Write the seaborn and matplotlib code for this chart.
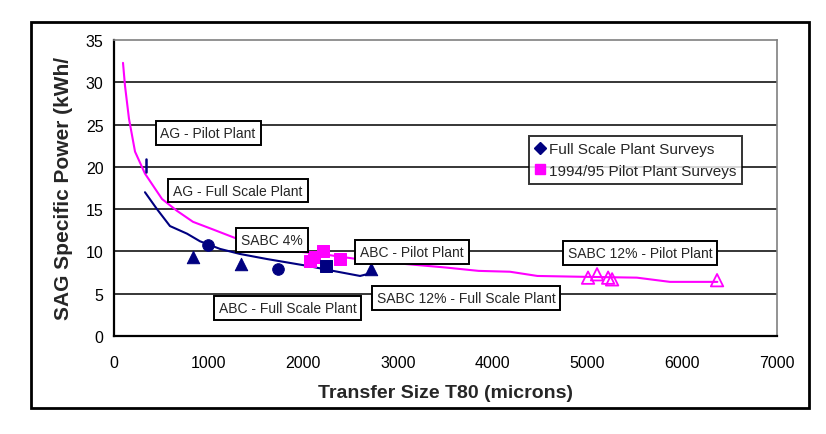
import matplotlib
matplotlib.use("Agg")
import matplotlib.pyplot as plt
import seaborn as sns
import pandas as pd
from matplotlib.lines import Line2D
from matplotlib.patches import Rectangle

# ---- data ----
pilot_curve_x = [95, 116, 158, 222, 327, 507, 665, 834, 1045, 1299, 1616, 1932, 2250,
                 2566, 2988, 3500, 3850, 4180, 4470, 4950, 5520, 5870, 6370]
pilot_curve_y = [32.3, 29.6, 25.7, 21.8, 19.2, 16.2, 14.8, 13.5, 12.6, 11.5, 10.5, 10.0, 9.6,
                 9.1, 8.6, 8.1, 7.7, 7.6, 7.1, 7.0, 6.9, 6.4, 6.4]
full_curve_x = [327, 454, 591, 771, 908, 1119, 1330, 1616, 1827, 2038, 2313, 2598, 2703]
full_curve_y = [17.0, 15.0, 13.0, 12.1, 11.2, 10.3, 9.7, 9.1, 8.7, 8.3, 7.7, 7.1, 7.4]
ag_tick_x = [338, 338]
ag_tick_y = [19.4, 20.9]

full_tri_x = [834, 1341, 2714]
full_tri_y = [9.4, 8.5, 7.9]
full_circ_x = [993, 1732]
full_circ_y = [10.8, 7.9]
full_sq_x = [2239]
full_sq_y = [8.3]
pilot_sq_x = [2070, 2110, 2210, 2390]
pilot_sq_y = [8.9, 9.4, 10.0, 9.1]
pilot_tri_x = [5005, 5100, 5217, 5259, 6367]
pilot_tri_y = [6.9, 7.3, 6.9, 6.7, 6.6]

labels_text = ["AG - Pilot Plant", "AG - Full Scale Plant", "SABC 4%", "ABC - Pilot Plant",
               "ABC - Full Scale Plant", "SABC 12% - Full Scale Plant", "SABC 12% - Pilot Plant"]
labels_x = [993, 1309, 1668, 3147, 1832, 3717, 5554]
labels_y = [24.0, 17.2, 11.35, 9.93, 3.3, 4.5, 9.8]

legend_labels = ["Full Scale Plant Surveys", "1994/95 Pilot Plant Surveys"]
xticks = [0, 1000, 2000, 3000, 4000, 5000, 6000, 7000]
yticks = [0, 5, 10, 15, 20, 25, 30, 35]

NAVY = "#000080"
MAG = "#FF00FF"

sns.set_style("white")
plt.rcParams['font.family'] = ['Liberation Sans', 'DejaVu Sans']

fig = plt.figure(figsize=(8.26, 4.35), dpi=100)
ax = fig.add_axes([114/826, 1-337/435, (777-114)/826, (337-41)/435])

# outer frame
fig.patches.append(Rectangle((31/826, 1-409/435), (809-31)/826, (409-23)/435,
                             transform=fig.transFigure, fill=False, edgecolor='black',
                             linewidth=2, zorder=0))

for yv in yticks[1:-1]:
    ax.axhline(yv, color='black', linewidth=1.1, zorder=1)

sns.lineplot(x=pilot_curve_x, y=pilot_curve_y, ax=ax, color=MAG, linewidth=1.5,
             sort=False, estimator=None, zorder=3)
sns.lineplot(x=full_curve_x, y=full_curve_y, ax=ax, color=NAVY, linewidth=1.5,
             sort=False, estimator=None, zorder=3)
sns.lineplot(x=ag_tick_x, y=ag_tick_y, ax=ax, color=NAVY, linewidth=1.8,
             sort=False, estimator=None, zorder=3)

sns.scatterplot(x=full_tri_x, y=full_tri_y, ax=ax, marker='^', s=80, color=NAVY,
                edgecolor=NAVY, zorder=5)
sns.scatterplot(x=full_circ_x, y=full_circ_y, ax=ax, marker='o', s=70, color=NAVY,
                edgecolor=NAVY, zorder=5)
sns.scatterplot(x=pilot_sq_x, y=pilot_sq_y, ax=ax, marker='s', s=80, color=MAG,
                edgecolor=MAG, zorder=5)
sns.scatterplot(x=full_sq_x, y=full_sq_y, ax=ax, marker='s', s=75, color=NAVY,
                edgecolor=NAVY, zorder=6)
sns.scatterplot(x=pilot_tri_x, y=pilot_tri_y, ax=ax, marker='^', s=80, facecolor='none',
                edgecolor=MAG, linewidth=1.3, zorder=5)

for t, lx, ly in zip(labels_text, labels_x, labels_y):
    ax.text(lx, ly, t, ha='center', va='center', fontsize=10, zorder=7,
            bbox=dict(boxstyle='square,pad=0.35', facecolor='white', edgecolor='black',
                      linewidth=1.4))

ax.set_xlim(0, 7000)
ax.set_ylim(0, 35)
ax.set_xticks(xticks)
ax.set_yticks(yticks)
ax.tick_params(axis='both', labelsize=11.5, colors='black', width=1.5)
ax.tick_params(axis='x', direction='out', length=5, pad=9)
ax.tick_params(axis='y', direction='inout', length=8)

for s in ['left', 'bottom']:
    ax.spines[s].set_color('black')
    ax.spines[s].set_linewidth(1.6)
for s in ['top', 'right']:
    ax.spines[s].set_color('#808080')
    ax.spines[s].set_linewidth(1.2)

ax.set_xlabel("Transfer Size T80 (microns)", fontsize=14, fontweight='bold')
ax.xaxis.set_label_coords(0.5, (337-393)/296)
ax.xaxis.label.set_va('center')
ax.set_ylabel("SAG Specific Power (kWh/", fontsize=15, fontweight='bold')
ax.yaxis.set_label_coords((64-114)/663, (337-189)/296)
ax.yaxis.label.set_va('center')

handles = [Line2D([], [], marker='D', color=NAVY, linestyle='None', markersize=6.5),
           Line2D([], [], marker='s', color=MAG, linestyle='None', markersize=6.5)]
leg = ax.legend(handles, legend_labels, loc='upper left', bbox_to_anchor=((529-114)/663, 1-(137-41)/296),
                fontsize=11, frameon=True, fancybox=False, handlelength=0.6,
                handletextpad=0.3, borderpad=0.4, labelspacing=0.5, borderaxespad=0)
leg.get_frame().set_edgecolor('black')
leg.get_frame().set_linewidth(1.4)
leg.set_zorder(8)

fig.savefig("out.png", dpi=100)
